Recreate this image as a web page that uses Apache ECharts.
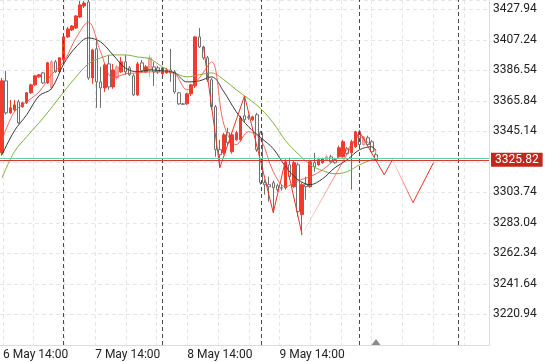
<!DOCTYPE html>
<html><head><meta charset="utf-8">
<script src="https://cdn.jsdelivr.net/npm/echarts@6/dist/echarts.min.js"></script>
<style>html,body{margin:0;padding:0;background:#fff}#c{width:550px;height:362px}</style>
</head><body><div id="c"></div>
<script>
const opens  = [3330.6,3379.4,3357.7,3359.8,3365.2,3361.8,3364.5,3371.3,3376.7,3382.1,3384.8,3378.0,3374.6,3392.3,3385.5,3393.6,3409.2,3413.9,3415.3,3422.7,3430.2,3432.9,3381.4,3401.1,3378.7,3374.6,3390.9,3375.3,3381.4,3385.5,3392.3,3388.2,3382.8,3369.9,3391.6,3385.5,3386.8,3388.9,3388.2,3384.1,3384.8,3386.8,3385.5,3371.3,3363.8,3363.8,3370.6,3376.0,3409.2,3402.4,3395.0,3380.1,3361.8,3332.7,3330.6,3344.2,3331.3,3339.4,3339.4,3355.7,3355.0,3353.0,3356.4,3344.2,3310.3,3309.0,3310.3,3308.3,3306.9,3306.9,3322.5,3307.6,3322.5,3288.7,3309.0,3307.6,3323.9,3322.5,3323.9,3325.9,3327.9,3325.9,3327.9,3327.9,3333.4,3330.6,3334.7,3344.9,3336.1,3340.8,3338.1,3329.3];
const closes = [3379.4,3357.7,3361.1,3363.1,3350.9,3364.5,3371.3,3376.7,3382.8,3383.5,3378.0,3391.6,3392.3,3385.5,3395.0,3409.2,3414.6,3416.6,3423.4,3430.9,3432.2,3381.4,3400.4,3378.7,3374.6,3390.2,3375.3,3386.8,3388.9,3392.3,3385.5,3383.5,3369.9,3390.9,3386.2,3388.9,3395.0,3385.5,3385.5,3388.2,3386.8,3384.8,3371.9,3363.8,3363.5,3370.6,3376.7,3409.2,3402.4,3395.0,3380.1,3361.8,3332.7,3329.3,3342.8,3337.4,3342.8,3344.2,3354.3,3353.0,3354.3,3355.0,3332.7,3310.3,3308.9,3307.6,3306.9,3305.6,3306.6,3323.9,3314.4,3323.9,3290.7,3309.0,3307.6,3324.5,3321.2,3325.9,3326.6,3327.9,3324.5,3323.9,3334.0,3338.1,3330.0,3338.1,3344.9,3336.1,3341.5,3336.1,3331.3,3325.82];
const highs  = [3381.4,3386.2,3366.5,3366.5,3366.5,3365.2,3371.9,3377.4,3383.5,3384.1,3385.5,3392.3,3393.6,3393.6,3395.6,3410.5,3416.0,3417.3,3424.1,3433.6,3433.6,3436.0,3401.1,3408.5,3388.9,3391.6,3397.0,3390.9,3390.2,3395.6,3397.0,3389.5,3384.1,3392.3,3393.6,3390.2,3397.0,3392.3,3389.5,3388.9,3388.2,3401.1,3386.8,3371.9,3364.5,3371.3,3377.4,3409.9,3415.3,3403.1,3396.3,3381.4,3363.1,3339.4,3344.2,3347.6,3344.2,3345.5,3355.7,3369.2,3356.4,3355.7,3357.7,3345.5,3312.4,3314.4,3311.7,3309.6,3309.0,3325.9,3327.3,3325.2,3323.9,3310.3,3314.4,3325.9,3330.6,3327.3,3327.3,3329.3,3329.3,3327.3,3335.4,3339.4,3334.7,3339.4,3345.5,3346.2,3342.2,3342.2,3339.4,3330.6];
const lows   = [3328.6,3356.4,3357.0,3358.4,3350.3,3361.1,3363.8,3370.6,3376.0,3381.4,3377.4,3377.4,3373.3,3384.8,3384.8,3392.9,3408.5,3413.2,3414.6,3422.0,3428.8,3380.1,3377.4,3361.1,3361.1,3371.9,3373.3,3374.0,3380.1,3384.8,3383.5,3382.8,3369.2,3369.2,3385.5,3384.8,3382.1,3376.0,3384.1,3383.5,3384.1,3378.7,3370.6,3363.1,3363.1,3363.1,3369.2,3374.6,3401.7,3393.6,3378.7,3359.8,3327.9,3320.5,3329.3,3336.1,3330.0,3338.8,3338.1,3351.6,3353.0,3352.3,3331.3,3309.0,3302.2,3297.5,3290.0,3304.2,3304.9,3305.6,3312.4,3306.9,3287.3,3275.1,3298.8,3306.9,3317.8,3321.8,3323.2,3325.2,3323.9,3323.2,3327.3,3327.3,3329.3,3305.6,3334.0,3335.4,3335.4,3335.4,3330.6,3325.2];
const paleIdx = [12, 28, 36, 79, 88];
const slotCount = 119;

const maIdx   = [0,3,6,9,12,15,18,21,24,27,30,33,36,39,42,45,48,51,54,57,60,63,66,69,72,75,78,81,84,87,90,91];
const maBlack = [3329.3,3345.5,3356.4,3369.2,3374.0,3390.9,3402.4,3408.5,3405.8,3397.0,3388.2,3385.5,3386.8,3386.2,3384.8,3378.7,3379.4,3382.1,3371.9,3358.4,3348.2,3340.8,3333.4,3321.2,3312.4,3309.0,3313.0,3320.5,3325.9,3332.7,3334.7,3332.0];
const maGreen = [3313.7,3331.3,3341.5,3350.9,3361.1,3371.9,3382.1,3390.9,3395.0,3397.0,3397.0,3395.6,3394.3,3388.9,3384.8,3382.1,3383.5,3384.8,3380.1,3373.3,3367.2,3360.4,3350.9,3338.8,3330.0,3322.5,3318.5,3316.4,3317.8,3322.5,3325.9,3326.6];
const maRed   = [3339.4,3358.4,3365.2,3371.9,3383.5,3392.3,3408.5,3419.3,3399.0,3381.4,3384.1,3384.8,3385.5,3385.5,3384.1,3373.3,3381.4,3392.3,3349.6,3336.1,3344.9,3339.4,3317.8,3307.6,3311.7,3314.4,3319.1,3325.9,3332.7,3341.5,3334.7,3330.6];

const zzIdx  = [49,53,59,66,69,73,87,93,95,100,105];
const zzVal  = [3403.1,3320.5,3369.2,3290.0,3325.9,3275.1,3344.9,3315.7,3325.9,3296.8,3323.9];
const zzFade = [0,0,0,0,0,1,0,0,1,0];

const dayLineIdx = [15,39,63,87,111];
const timeLabels = ['6 May 14:00','7 May 14:00','8 May 14:00','9 May 14:00'];
const timeLabelTicks = [0,3,6,9];
const lastPrice = 3325.82;
const bidPrice = 3327.0;

const categories = Array.from({length: slotCount}, (_, i) => String(i));
const paleSet = new Set(paleIdx);
const candleData = opens.map((o, i) => {
  const v = [o, closes[i], lows[i], highs[i]];
  if (paleSet.has(i)) {
    return {value: v, itemStyle: {color: 'rgba(242,70,55,0.45)', borderColor: 'rgba(242,70,55,0.45)', color0: 'rgba(242,70,55,0.45)', borderColor0: 'rgba(242,70,55,0.45)'}};
  }
  return v;
});
function sparse(vals) {
  const arr = new Array(slotCount).fill(null);
  maIdx.forEach((ix, k) => { arr[ix] = vals[k]; });
  return arr;
}
const maSeries = [
  {vals: maGreen, color: '#7db144'},
  {vals: maBlack, color: '#3a3a3a'},
  {vals: maRed, color: 'rgba(240,80,65,0.85)'}
].map(m => ({
  type: 'line', xAxisIndex: 0, yAxisIndex: 0, data: sparse(m.vals), connectNulls: true,
  smooth: 0.35, symbol: 'none', lineStyle: {color: m.color, width: 1}, silent: true, z: 3
}));

const zzSeries = [];
for (let k = 0; k < zzIdx.length - 1; k++) {
  const arr = new Array(slotCount).fill(null);
  arr[zzIdx[k]] = zzVal[k];
  arr[zzIdx[k + 1]] = zzVal[k + 1];
  const color = zzFade[k]
    ? new echarts.graphic.LinearGradient(0, 0, 1, 0, [
        {offset: 0, color: 'rgba(235,50,40,0.05)'},
        {offset: 1, color: 'rgba(235,50,40,0.95)'}])
    : '#ea3428';
  zzSeries.push({
    type: 'line', xAxisIndex: 0, yAxisIndex: 0, data: arr, connectNulls: true,
    symbol: 'none', lineStyle: {color: color, width: 1}, silent: true, z: 4
  });
}

const chart = echarts.init(document.getElementById('c'), null, {renderer: 'canvas'});
chart.setOption({
  animation: false,
  backgroundColor: '#ffffff',
  textStyle: {fontFamily: 'Roboto, sans-serif'},
  grid: [
    {left: 0, right: 61, top: 0, bottom: 17},
    {left: 3, right: 61, top: 0, bottom: 17}
  ],
  xAxis: [
    {type: 'category', gridIndex: 0, data: categories, boundaryGap: true,
     axisLine: {show: true, onZero: false, lineStyle: {color: '#dcdcdc'}},
     axisTick: {show: false}, axisLabel: {show: false}, splitLine: {show: false}},
    {type: 'value', gridIndex: 1, min: 0, max: 15.82, interval: 1,
     axisLine: {show: false, onZero: false}, axisTick: {show: false},
     splitLine: {show: true, lineStyle: {color: '#e6e6e6', type: [4, 3], width: 1}},
     axisLabel: {showMaxLabel: false, align: 'left', margin: 4, color: '#222', fontSize: 12,
       formatter: v => { const k = timeLabelTicks.indexOf(Math.round(v)); return k >= 0 ? timeLabels[k] : ''; }}}
  ],
  yAxis: [
    {type: 'value', gridIndex: 0, position: 'right', min: 3200.24, max: 3434.24, interval: 20.7,
     axisLine: {show: true, lineStyle: {color: '#dcdcdc'}}, axisTick: {show: false},
     splitLine: {show: true, lineStyle: {color: '#e6e6e6', type: [4, 3], width: 1}},
     axisLabel: {showMinLabel: false, showMaxLabel: false, margin: 4, color: '#222', fontSize: 12,
       formatter: v => v.toFixed(2)}},
    {type: 'value', gridIndex: 1, min: 0, max: 1, show: false}
  ],
  series: [
    {
      type: 'candlestick', xAxisIndex: 0, yAxisIndex: 0, data: candleData, barWidth: 3,
      itemStyle: {color: '#f23b2c', color0: '#ffffff', borderColor: '#f23b2c', borderColor0: '#707070', borderWidth: 1},
      markLine: {
        silent: true, symbol: ['none', 'none'], animation: false,
        data: dayLineIdx.map(ix => ({xAxis: ix, lineStyle: {color: '#4a4a4a', type: [4, 3], width: 1}, label: {show: false}}))
          .concat([
            {yAxis: bidPrice, lineStyle: {color: '#62d0aa', type: 'solid', width: 1}, label: {show: false}},
            {yAxis: lastPrice, lineStyle: {color: '#e0352b', type: 'solid', width: 1},
             label: {show: true, position: 'end', distance: 2, formatter: () => lastPrice.toFixed(2),
                     backgroundColor: '#c1271d', color: '#fff', fontSize: 12, lineHeight: 14, padding: [0, 4]}}
          ])
      },
      markPoint: {
        silent: true, animation: false,
        data: [{coord: [opens.length - 1, 3200.24], symbol: 'triangle', symbolSize: [9, 6], symbolOffset: [0, -3],
                itemStyle: {color: '#8a8a8a'}, label: {show: false}}]
      }
    }
  ].concat(maSeries, zzSeries)
});
</script></body></html>
